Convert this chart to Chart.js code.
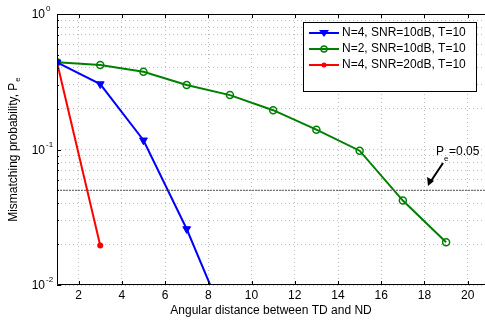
<!DOCTYPE html>
<html>
<head>
<meta charset="utf-8">
<script src="https://cdn.jsdelivr.net/npm/chart.js@4/dist/chart.umd.min.js"></script>
<style>
  body { margin: 0; background: #fff; }
  canvas { display: block; }
</style>
</head>
<body>
<canvas id="pe" width="485" height="323"></canvas>
<script>
// angular distance values and the three curves
const blueX = [1, 3, 5, 7, 9];
const blueY = [0.44, 0.304, 0.117, 0.0259, 0.0045];
const greenX = [1, 3, 5, 7, 9, 11, 13, 15, 17, 19];
const greenY = [0.44, 0.42, 0.375, 0.299, 0.252, 0.195, 0.14, 0.098, 0.042, 0.0207];
const redX = [1, 3];
const redY = [0.44, 0.0196];

const seriesLabels = ["N=4, SNR=10dB, T=10", "N=2, SNR=10dB, T=10", "N=4, SNR=20dB, T=10"];
const seriesColors = ["#0000ff", "#008000", "#ff0000"];

const thresholdX = [1, 21];
const thresholdY = [0.05, 0.05];

const xTicks = [2, 4, 6, 8, 10, 12, 14, 16, 18, 20];
const yDecades = [0.01, 0.1, 1];
const yExponents = ["-2", "-1", "0"];
const yMinor = [2, 3, 4, 5, 6, 7, 8, 9];

const FONT = "'Liberation Sans', Arial, sans-serif";

function toPoints(xs, ys) {
    return xs.map((x, i) => ({ x: x, y: ys[i] }));
}

function yTickValues() {
    let vals = [];
    for (let d = 0; d < yDecades.length; d++) {
        vals.push(yDecades[d]);
        if (d < yDecades.length - 1) {
            for (let m of yMinor) vals.push(yDecades[d] * m);
        }
    }
    return vals;
}

const matlabDecor = {
    id: 'matlabDecor',
    afterDraw(chart) {
        const ctx = chart.ctx;
        const area = chart.chartArea;
        const xs = chart.scales.x;
        const ys = chart.scales.y;

        ctx.save();
        // axes box: the right side of the original falls outside the picture
        ctx.strokeStyle = "#000";
        ctx.lineWidth = 1;
        ctx.beginPath();
        ctx.moveTo(area.right, area.top + 0.5);
        ctx.lineTo(area.left + 0.5, area.top + 0.5);
        ctx.lineTo(area.left + 0.5, area.bottom - 0.5);
        ctx.lineTo(area.right, area.bottom - 0.5);
        ctx.stroke();

        // inward tick marks
        ctx.beginPath();
        for (let v of xTicks) {
            const px = Math.round(xs.getPixelForValue(v)) + 0.5;
            ctx.moveTo(px, area.bottom); ctx.lineTo(px, area.bottom - 4);
            ctx.moveTo(px, area.top); ctx.lineTo(px, area.top + 4);
        }
        for (let v of yTickValues()) {
            const py = Math.round(ys.getPixelForValue(v)) + 0.5;
            const len = yDecades.includes(v) ? 4 : 2;
            ctx.moveTo(area.left, py); ctx.lineTo(area.left + len, py);
        }
        ctx.stroke();

        // tick labels
        ctx.fillStyle = "#000";
        ctx.font = "12px " + FONT;
        ctx.textAlign = "center";
        ctx.textBaseline = "middle";
        for (let v of xTicks) {
            ctx.fillText(String(v), xs.getPixelForValue(v), 296);
        }
        for (let i = 0; i < yDecades.length; i++) {
            const py = ys.getPixelForValue(yDecades[i]);
            ctx.font = "12px " + FONT;
            ctx.textAlign = "right";
            ctx.fillText("10", 45, py + 1);
            ctx.font = "8px " + FONT;
            ctx.textAlign = "left";
            ctx.fillText(yExponents[i], 46, py - 5);
        }

        // axis titles
        ctx.font = "12px " + FONT;
        ctx.textAlign = "center";
        ctx.fillText("Angular distance between TD and ND", 271, 311);

        ctx.save();
        ctx.translate(14, 150);
        ctx.rotate(-Math.PI / 2);
        const main = "Mismatching probability, P";
        ctx.font = "12px " + FONT;
        const wMain = ctx.measureText(main).width;
        ctx.font = "8px " + FONT;
        const wSub = ctx.measureText("e").width;
        const startX = -(wMain + wSub) / 2;
        ctx.textAlign = "left";
        ctx.font = "12px " + FONT;
        ctx.fillText(main, startX, 0);
        ctx.font = "8px " + FONT;
        ctx.fillText("e", startX + wMain + 1, 4);
        ctx.restore();

        // legend box
        const lx = 303, ly = 22, lw = 173, lh = 69;
        ctx.fillStyle = "#fff";
        ctx.fillRect(lx, ly, lw, lh);
        ctx.strokeStyle = "#000";
        ctx.lineWidth = 1;
        ctx.strokeRect(lx + 0.5, ly + 0.5, lw, lh);
        const rows = [33, 49, 65];
        for (let i = 0; i < seriesLabels.length; i++) {
            const ry = rows[i];
            ctx.strokeStyle = seriesColors[i];
            ctx.lineWidth = 2;
            ctx.beginPath();
            ctx.moveTo(309, ry); ctx.lineTo(339, ry);
            ctx.stroke();
            ctx.fillStyle = seriesColors[i];
            ctx.beginPath();
            if (i === 0) {
                ctx.moveTo(319, ry - 3); ctx.lineTo(329, ry - 3); ctx.lineTo(324, ry + 4);
                ctx.closePath(); ctx.fill();
            } else if (i === 1) {
                ctx.lineWidth = 1.5;
                ctx.arc(324, ry, 3, 0, Math.PI * 2);
                ctx.stroke();
            } else {
                ctx.arc(324, ry, 2.5, 0, Math.PI * 2);
                ctx.fill();
            }
            ctx.fillStyle = "#000";
            ctx.font = "12px " + FONT;
            ctx.textAlign = "left";
            ctx.textBaseline = "middle";
            ctx.fillText(seriesLabels[i], 342, ry);
        }

        // P_e = 0.05 annotation with arrow
        ctx.fillStyle = "#000";
        ctx.font = "12px " + FONT;
        ctx.textAlign = "left";
        ctx.textBaseline = "alphabetic";
        ctx.fillText("P", 436, 155);
        ctx.font = "8px " + FONT;
        ctx.fillText("e", 444, 161);
        ctx.font = "12px " + FONT;
        ctx.fillText("=0.05", 449, 155);

        ctx.strokeStyle = "#000";
        ctx.lineWidth = 2;
        ctx.beginPath();
        ctx.moveTo(443, 163); ctx.lineTo(431, 181);
        ctx.stroke();
        ctx.beginPath();
        ctx.moveTo(428, 186); ctx.lineTo(427, 177); ctx.lineTo(434, 181);
        ctx.closePath();
        ctx.fill();

        ctx.restore();
    }
};

new Chart(document.getElementById('pe').getContext('2d'), {
    type: 'line',
    data: {
        datasets: [{
            label: "Pe=0.05",
            data: toPoints(thresholdX, thresholdY),
            borderColor: "#555",
            borderWidth: 1,
            borderDash: [2, 1],
            pointRadius: 0
        }, {
            label: seriesLabels[0],
            data: toPoints(blueX, blueY),
            borderColor: seriesColors[0],
            backgroundColor: seriesColors[0],
            borderWidth: 2,
            pointStyle: 'triangle',
            pointRotation: 180,
            pointRadius: 4.5,
            pointBorderWidth: 1
        }, {
            label: seriesLabels[1],
            data: toPoints(greenX, greenY),
            borderColor: seriesColors[1],
            backgroundColor: 'rgba(0,0,0,0)',
            borderWidth: 2,
            pointStyle: 'circle',
            pointRadius: 3.5,
            pointBorderWidth: 1.5
        }, {
            label: seriesLabels[2],
            data: toPoints(redX, redY),
            borderColor: seriesColors[2],
            backgroundColor: seriesColors[2],
            borderWidth: 2,
            pointStyle: 'circle',
            pointRadius: 3,
            pointBorderWidth: 0
        }]
    },
    options: {
        responsive: false,
        animation: false,
        layout: {
            autoPadding: false,
            padding: { top: 14, right: 0, left: 0, bottom: 0 }
        },
        plugins: {
            legend: { display: false },
            tooltip: { enabled: false }
        },
        scales: {
            x: {
                type: 'linear',
                min: 1,
                max: 20.8,
                afterBuildTicks: function(axis) {
                    axis.ticks = xTicks.map(v => ({ value: v }));
                },
                afterFit: function(axis) {
                    axis.height = 38;
                },
                ticks: { display: false },
                grid: { color: '#b9b9b9', lineWidth: 1, drawTicks: false },
                border: { display: false, dash: [1, 3] }
            },
            y: {
                type: 'logarithmic',
                min: 0.01,
                max: 1,
                afterBuildTicks: function(axis) {
                    axis.ticks = yTickValues().map(v => ({ value: v }));
                },
                afterFit: function(axis) {
                    axis.width = 57;
                },
                ticks: { display: false },
                grid: { color: '#b9b9b9', lineWidth: 1, drawTicks: false },
                border: { display: false, dash: [1, 3] }
            }
        }
    },
    plugins: [matlabDecor]
});
</script>
</body>
</html>
